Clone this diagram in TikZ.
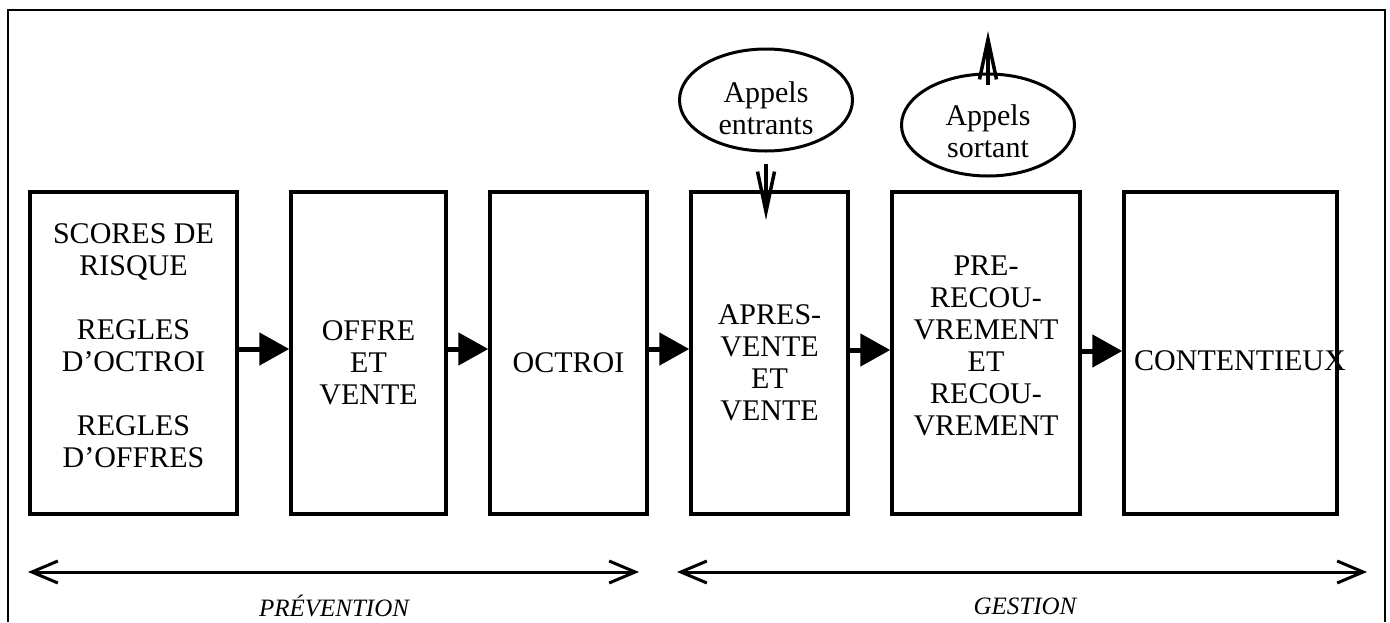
\documentclass[tikz,border=0pt]{standalone}
\usepackage{fontspec}
\setmainfont{Liberation Serif}
\usetikzlibrary{positioning,shapes.geometric,arrows.meta}

\tikzset{
    boite/.style={draw, line width=3.5pt, minimum height=322pt, inner sep=0pt},
    texte/.style={anchor=north, align=center, inner sep=0pt, font=\fontsize{30}{32}\selectfont},
    bulle/.style={draw, ellipse, line width=3pt, minimum width=173pt, minimum height=102pt, inner sep=0pt},
    fleche/.style={line width=5pt, -{Triangle[length=30pt,width=32pt]}},
    appel/.style={line width=3.5pt, -{Straight Barb[length=40pt,width=17pt]}},
    phase/.style={line width=3pt, {Straight Barb[length=26pt,width=22pt]}-{Straight Barb[length=26pt,width=22pt]}},
    titre/.style={inner sep=0pt, font=\fontsize{25}{28}\selectfont\itshape}
}

\begin{document}
\begin{tikzpicture}[x=1pt,y=-1pt]
    \useasboundingbox (0,0) rectangle (1390,622);

    % cadre
    \draw[line width=2pt] (8,622) -- (8,10) -- (1385,10) -- (1385,622);

    % les six etapes
    \node[boite, minimum width=207pt] (b1) at (133.5,353) {};
    \node[boite, minimum width=155pt] (b2) at (368.5,353) {};
    \node[boite, minimum width=157pt] (b3) at (568.5,353) {};
    \node[boite, minimum width=157pt] (b4) at (769.5,353) {};
    \node[boite, minimum width=188pt] (b5) at (986,353) {};
    \node[boite, minimum width=213pt] (b6) at (1230.5,353) {};

    \node[texte] (t1) at (133.5,223) {SCORES DE\\RISQUE\\[32pt]REGLES\\D’OCTROI\\[32pt]REGLES\\D’OFFRES};
    \node[texte] (t2) at (368.5,320) {OFFRE\\ET\\VENTE};
    \node[texte] (t3) at (568.5,352) {OCTROI};
    \node[texte] (t4) at (769.5,304) {APRES-\\VENTE\\ET\\VENTE};
    \node[texte] (t5) at (986,256) {PRE-\\RECOU-\\VREMENT\\ET\\RECOU-\\VREMENT};
    \node[texte] (t6) at (1240,350) {CONTENTIEUX};

    % fleches entre etapes
    \draw[fleche] ([yshift=4pt]b1.east) -- ([yshift=4pt]b2.west);
    \draw[fleche] ([yshift=4pt]b2.east) -- ([yshift=4pt]b3.west);
    \draw[fleche] ([yshift=4pt]b3.east) -- ([yshift=4pt]b4.west);
    \draw[fleche] ([yshift=3pt]b4.east) -- ([yshift=3pt]b5.west);
    \draw[fleche] ([yshift=2pt]b5.east) -- ([yshift=2pt]b6.west);

    % appels
    \node[bulle] (e1) at (766,100) {};
    \node[texte, anchor=center] (a1) at (766,108) {Appels\\entrants};
    \coordinate (c1) at (766,220);
    \draw[appel] ([yshift=-11pt]e1.south) -- (c1);

    \node[bulle] (e2) at (988,125) {};
    \node[texte, anchor=center] (a2) at (988,131) {Appels\\sortant};
    \coordinate (c2) at (988,31);
    \draw[appel] ([yshift=-12pt]e2.north) -- (c2);

    % prevention / gestion
    \coordinate (p1) at (28,572);
    \coordinate (p2) at (639,572);
    \coordinate (g1) at (677,572);
    \coordinate (g2) at (1367,572);
    \draw[phase] (p1) -- (p2);
    \draw[phase] (g1) -- (g2);

    \node[titre] (prev) at (334,606) {PRÉVENTION};
    \node[titre] (gest) at (1025,606) {GESTION};
\end{tikzpicture}
\end{document}
